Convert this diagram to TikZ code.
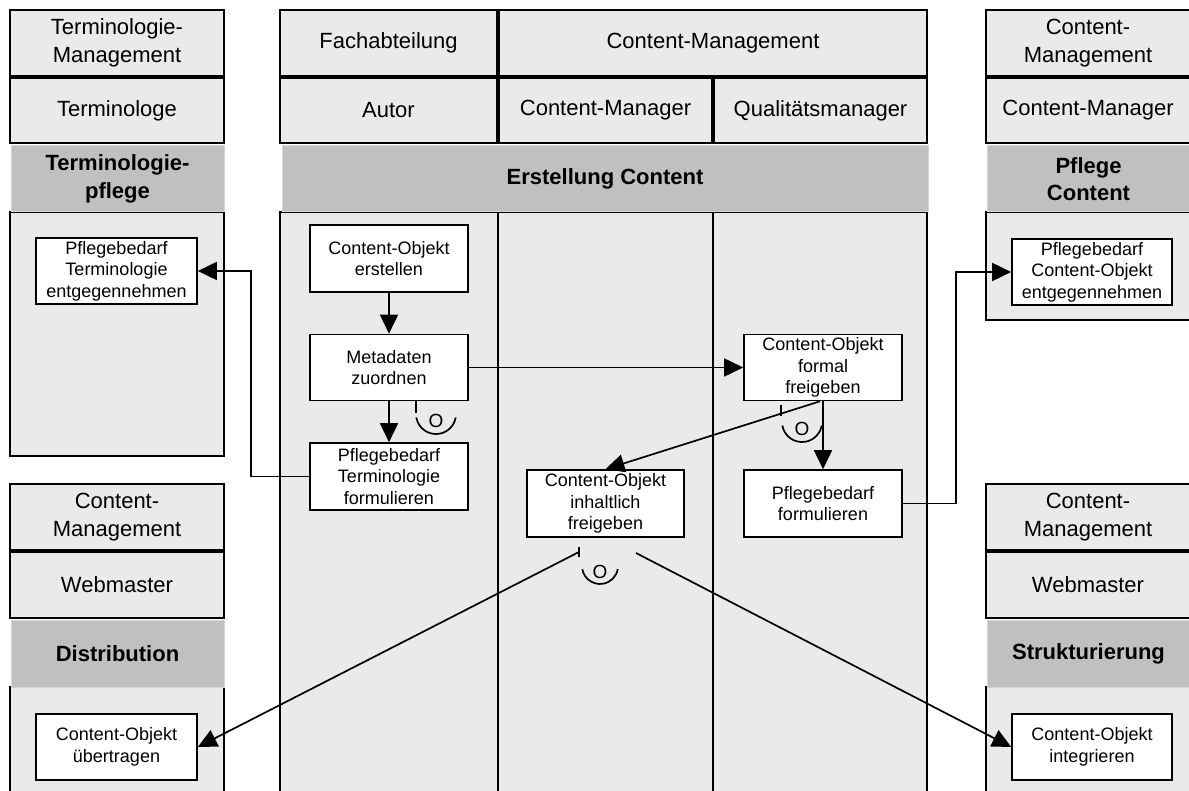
\documentclass[tikz,border=0pt]{standalone}
\usepackage{fontspec}
\setmainfont{Liberation Sans}
\usetikzlibrary{arrows.meta}
\definecolor{lightfill}{HTML}{EAEAEA}
\definecolor{barfill}{HTML}{C0C0C0}
\definecolor{barline}{HTML}{D6D6D6}
\begin{document}
\begin{tikzpicture}[x=1pt,y=-1pt,
  hdr/.style={draw, fill=lightfill, line width=1.5pt, inner sep=0pt, align=center, font=\fontsize{22}{27.5}\selectfont},
  bar/.style={draw=barline, fill=barfill, line width=1pt, inner sep=0pt, align=center, font=\bfseries\fontsize{22}{27.5}\selectfont},
  panel/.style={draw, fill=lightfill, line width=1.6pt},
  lane/.style={line width=1.8pt},
  task/.style={draw, fill=white, line width=1.6pt, inner sep=0pt, align=center, font=\fontsize{18}{21.5}\selectfont, minimum width=158pt, minimum height=66pt},
  arr/.style={line width=1.7pt, -{Triangle[length=19pt,width=18pt]}},
  orsym/.style={line width=1.7pt},
  orletter/.style={inner sep=0pt, font=\fontsize{19}{19}\selectfont}
]
\useasboundingbox (0,0) rectangle (1189,791);
\clip (0,0) rectangle (1189,791);
\fill[white] (0,0) rectangle (1189,791);

% panel bodies
\draw[panel] (10,212) rectangle (224,456);
\draw[panel] (280,212) rectangle (927,800);
\draw[panel] (986,212) rectangle (1190,320);
\draw[panel] (10,687) rectangle (224,800);
\draw[panel] (986,687) rectangle (1190,800);
\draw[lane] (498,212) -- (498,800);
\draw[lane] (713,212) -- (713,800);

% top-left panel headers
\node[hdr, minimum width=214pt, minimum height=66pt] (tl1) at (117,43) {Terminologie-\\Management};
\node[hdr, minimum width=214pt, minimum height=65pt] (tl2) at (117,110.5) {Terminologe};
\node[bar, minimum width=213pt, minimum height=66pt] (tlg) at (117.5,179) {Terminologie-\\pflege};

% center panel headers
\node[hdr, minimum width=217pt, minimum height=66pt] (fach) at (388.5,43) {Fachabteilung};
\node[hdr, minimum width=428pt, minimum height=66pt] (cmg) at (713,43) {Content-Management};
\node[hdr, minimum width=217pt, minimum height=65pt] (autor) at (388.5,110.5) {Autor};
\node[hdr, minimum width=213pt, minimum height=65pt] (cmgr) at (605.5,110.5) {Content-Manager};
\node[hdr, minimum width=213pt, minimum height=65pt] (qual) at (820.5,110.5) {Qualitätsmanager};
\node[bar, minimum width=646pt, minimum height=66pt] (erstc) at (605,179) {Erstellung Content};

% top-right panel headers
\node[hdr, minimum width=204pt, minimum height=66pt] (tr1) at (1088,43) {Content-\\Management};
\node[hdr, minimum width=204pt, minimum height=65pt] (tr2) at (1088,110.5) {Content-Manager};
\node[bar, minimum width=203pt, minimum height=66pt] (trg) at (1088.5,179) {Pflege\\Content};

% bottom-left panel headers
\node[hdr, minimum width=214pt, minimum height=66pt] (bl1) at (117,517) {Content-\\Management};
\node[hdr, minimum width=214pt, minimum height=66pt] (bl2) at (117,585) {Webmaster};
\node[bar, minimum width=213pt, minimum height=67pt] (blg) at (117.5,653.5) {Distribution};

% bottom-right panel headers
\node[hdr, minimum width=204pt, minimum height=66pt] (br1) at (1088,517) {Content-\\Management};
\node[hdr, minimum width=204pt, minimum height=66pt] (br2) at (1088,585) {Webmaster};
\node[bar, minimum width=203pt, minimum height=67pt] (brg) at (1088.5,653.5) {Strukturierung};

% tasks
\node[task, minimum height=67pt] (erst) at (389,258.5) {Content-Objekt\\erstellen};
\node[task] (meta) at (389,367.5) {Metadaten\\zuordnen};
\node[task, minimum height=67pt] (ptf) at (389,476.5) {Pflegebedarf\\Terminologie\\formulieren};
\node[task, minimum width=157pt, minimum height=67pt] (inh) at (605.5,503.5) {Content-Objekt\\inhaltlich\\freigeben};
\node[task] (formal) at (823,367.5) {Content-Objekt\\formal\\freigeben};
\node[task, minimum height=67pt] (pfl) at (823,503.5) {Pflegebedarf\\formulieren};
\node[task, minimum width=161pt, minimum height=66pt] (pte) at (116.5,271) {Pflegebedarf\\Terminologie\\entgegennehmen};
\node[task, minimum width=160pt, minimum height=66pt] (pce) at (1092,272) {Pflegebedarf\\Content-Objekt\\entgegennehmen};
\node[task, minimum width=161pt, minimum height=66pt] (ueb) at (116.5,747) {Content-Objekt\\übertragen};
\node[task, minimum width=160pt, minimum height=66pt] (int) at (1092,747) {Content-Objekt\\integrieren};

% connectors
\draw[arr] (erst) -- (meta);
\draw[arr] (meta) -- (ptf);
\draw[arr] (meta.east) -- (formal.west);
\draw[arr] (formal) -- (pfl);
\draw[arr] ([xshift=-3pt]formal.south) -- (inh.north);
\draw[arr] (ptf.west) -- ++(-58,0) |- (pte.east);
\draw[arr] (pfl.east) -- ++(53,0) |- (pce.west);
\coordinate (o3l) at (579,552);
\coordinate (o3r) at (636,553);
\draw[arr] (o3l) -- (ueb.east);
\draw[arr] (o3r) -- (int.west);

% OR connector symbols
\draw[orsym] (416,400) -- (416,413);
\draw[orsym] (416.3,417.5) arc[start angle=190,end angle=350,radius=20pt];
\node[orletter] (ora) at (436,421) {O};

\draw[orsym] (781,405) -- (781,416);
\draw[orsym] (782.3,425.5) arc[start angle=190,end angle=350,radius=20pt];
\node[orletter] (orb) at (802,429) {O};

\draw[orsym] (579,547) -- (579,557);
\draw[orsym] (582.3,569.1) arc[start angle=190,end angle=350,radius=18pt];
\node[orletter] (orc) at (600,572) {O};
\end{tikzpicture}
\end{document}
